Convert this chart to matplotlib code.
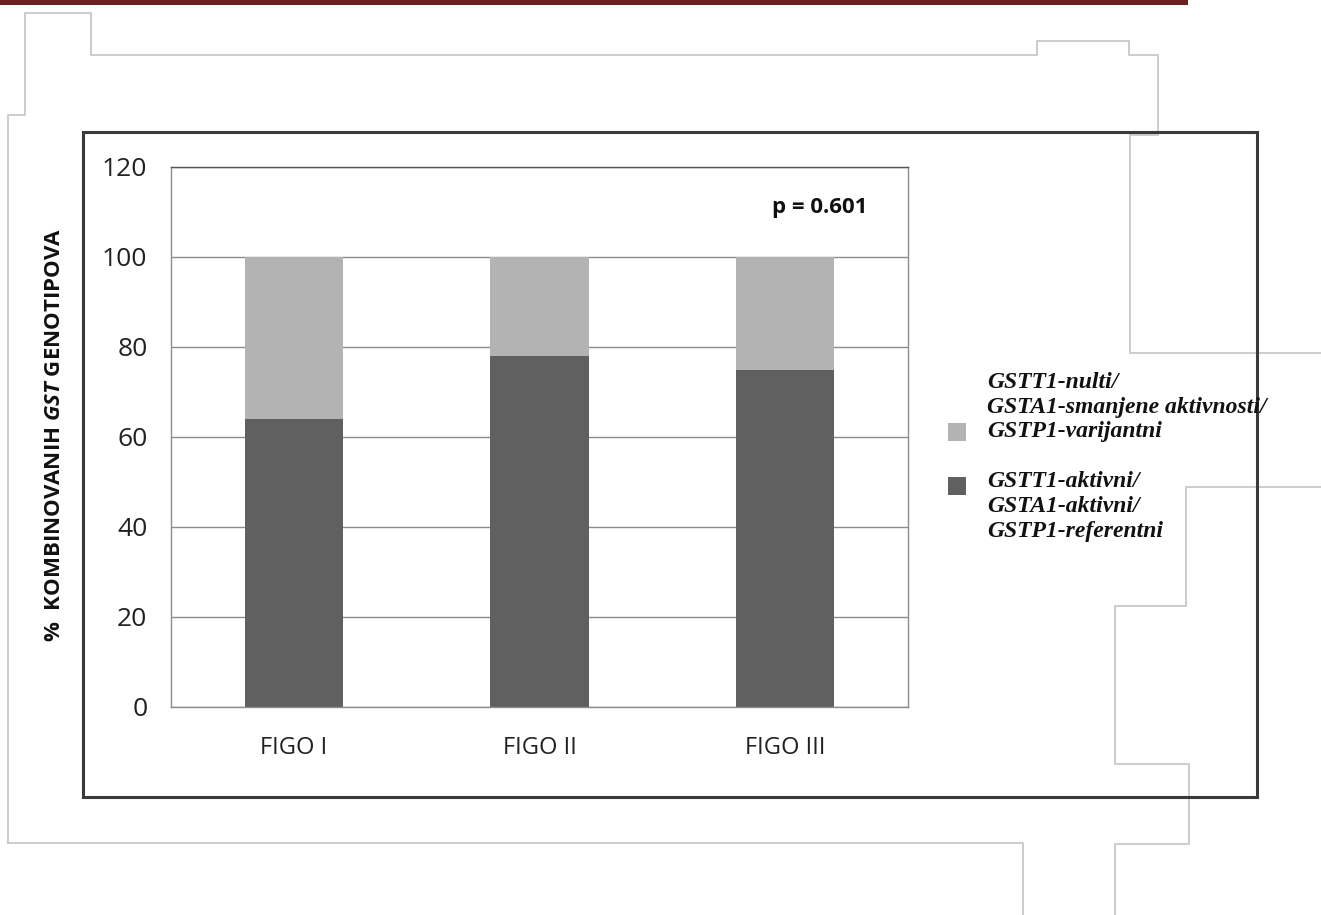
import matplotlib.pyplot as plt
from matplotlib.patches import Rectangle

plt.rcParams['mathtext.fontset'] = 'custom'
plt.rcParams['mathtext.bfit'] = 'Open Sans:bold:italic'

# FIGO stages and percentage of combined GST genotypes
stages = ['FIGO I', 'FIGO II', 'FIGO III']
active_ref = [64, 78, 75]       # GSTT1-aktivni/GSTA1-aktivni/GSTP1-referentni
null_variant = [36, 22, 25]     # GSTT1-nulti/GSTA1-smanjene aktivnosti/GSTP1-varijantni
y_ticks = [0, 20, 40, 60, 80, 100, 120]
p_value = 0.601

dark = '#606060'
light = '#b3b3b3'
grid = '#8c8c8c'

W, H = 1321, 915
fig = plt.figure(figsize=(W / 100, H / 100), dpi=100)

# page decoration drawn in pixel coordinates
bg = fig.add_axes([0, 0, 1, 1], zorder=-1)
bg.set_xlim(0, W)
bg.set_ylim(H, 0)
bg.axis('off')
bg.add_patch(Rectangle((0, 0), 1188, 5, color='#6b2121', lw=0))
outline = [
    ([8, 8, 25, 25, 91, 91, 1037, 1037, 1129, 1129, 1158, 1158],
     [843, 115, 115, 13, 13, 55, 55, 41, 41, 55, 55, 133]),
    ([1130, 1158], [135, 135]),
    ([1130, 1130, 1321], [135, 353, 353]),
    ([8, 1023, 1023], [843, 843, 915]),
    ([1321, 1186, 1186, 1115, 1115, 1189, 1189, 1115, 1115],
     [487, 487, 606, 606, 764, 764, 844, 844, 915]),
]
for xs, ys in outline:
    bg.plot(xs, ys, color='#c8c8c8', lw=1.3, solid_joinstyle='round')
bg.add_patch(Rectangle((83, 132), 1174, 665, fill=False, ec='#3a3a3a', lw=2.2, zorder=5))

# stacked bar chart
ax = fig.add_axes([171 / W, 1 - 707 / H, 737 / W, 540 / H])
x = range(len(stages))
ax.bar(x, active_ref, width=0.4, color=dark, zorder=2)
ax.bar(x, null_variant, bottom=active_ref, width=0.4, color=light, zorder=2)
ax.set_xlim(-0.5, len(stages) - 0.5)
ax.set_ylim(0, 120)
ax.set_yticks(y_ticks)
ax.set_xticks(list(x))
ax.set_xticklabels(stages, family=['Liberation Sans Narrow', 'Open Sans'], fontsize=17, color='#222222')
ax.set_yticklabels([str(v) for v in y_ticks], family='Open Sans', fontsize=19, color='#222222')
ax.tick_params(length=0)
ax.tick_params(axis='y', pad=17)
ax.tick_params(axis='x', pad=21)
ax.grid(axis='y', color=grid, lw=1, zorder=0)
for side in ax.spines.values():
    side.set_color(grid)
    side.set_linewidth(1)
ax.spines['top'].set_color('#555555')

ax.text(2.14, 111, f'p = {p_value}', ha='center', va='center',
        family='Open Sans', fontweight='bold', fontsize=16, color='#111111')

fig.text(55 / W, 1 - 435 / H, r'%  KOMBINOVANIH $\mathbfit{GST}$ GENOTIPOVA',
         rotation=90, ha='center', va='center', family='Open Sans',
         fontweight='bold', fontsize=16, color='#111111')

# legend
leg_font = dict(family='Liberation Serif', fontweight='bold', style='italic',
                fontsize=17, color='#111111', va='center', ha='left')
entries = [
    (light, ['GSTT1-nulti/', 'GSTA1-smanjene aktivnosti/', 'GSTP1-varijantni'], 382, 432),
    (dark, ['GSTT1-aktivni/', 'GSTA1-aktivni/', 'GSTP1-referentni'], 482, 486),
]
for color, lines, top, box_y in entries:
    bg.add_patch(Rectangle((948, box_y - 9), 18, 18, color=color, lw=0))
    for i, line in enumerate(lines):
        fig.text(987 / W, 1 - (top + 25 * i) / H, line, **leg_font)

fig.savefig('out.png', dpi=100)
